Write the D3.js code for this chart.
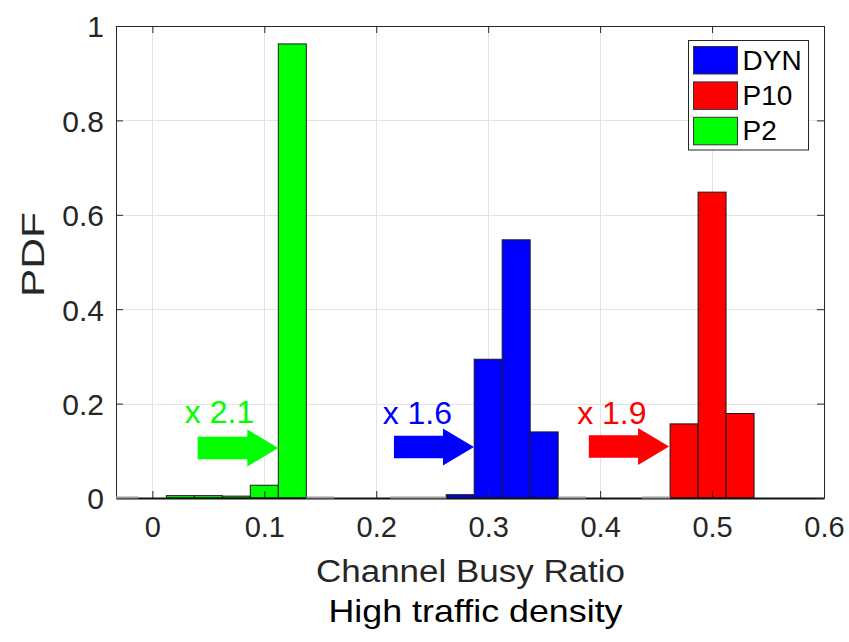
<!DOCTYPE html>
<html>
<head>
<meta charset="utf-8">
<script src="https://cdn.jsdelivr.net/npm/d3@7"></script>
<style>
  body { margin: 0; background: #fff; }
  svg { display: block; font-family: "Liberation Sans", Arial, sans-serif; }
</style>
</head>
<body>
<div class="chart"></div>
<script>
// Chart size
const width = 849;
const height = 642;
const margin = { top: 26, right: 25, bottom: 144, left: 116 };

// Bin centres (bin width 0.025)
const binWidth = 0.025;
const binCenters = [-0.025, 0, 0.025, 0.05, 0.075, 0.1, 0.125, 0.15, 0.175, 0.2, 0.225, 0.25,
  0.275, 0.3, 0.325, 0.35, 0.375, 0.4, 0.425, 0.45, 0.475, 0.5, 0.525, 0.55, 0.575];

// PDF values per bin (null = no bar, 0 = empty bin)
const dynValues = [null, null, null, null, null, null, null, null, null, null, 0, 0,
  0.007, 0.294, 0.547, 0.140, 0, null, null, null, null, null, null, null, null];
const p10Values = [null, null, null, null, null, null, null, null, null, null, null, null,
  null, null, null, null, null, null, null, 0, 0.157, 0.648, 0.179, null, null];
const p2Values = [0, null, 0.005, 0.005, 0.004, 0.027, 0.962, 0, null, null, null, null,
  null, null, null, null, null, null, null, null, null, null, null, null, null];

const seriesNames = ['DYN', 'P10', 'P2'];
const seriesColors = ['#0000ff', '#ff0000', '#00ff00'];
const seriesValues = [dynValues, p10Values, p2Values];

// Annotations: gain labels and arrows (data units)
const gainLabels = ['x 2.1', 'x 1.6', 'x 1.9'];
const gainColors = ['#00ff00', '#0000ff', '#ff0000'];
const arrowStartX = [0.0405, 0.2158, 0.3899];
const arrowTipX = [0.1125, 0.2873, 0.4616];
const arrowY = [0.106, 0.108, 0.109];
const labelX = [0.029, 0.2057, 0.3795];
const labelY = [0.158, 0.157, 0.157];

// Axes
const xDomain = [-0.0325, 0.6];
const yDomain = [0, 1];
const xTicks = [0, 0.1, 0.2, 0.3, 0.4, 0.5, 0.6];
const yTicks = [0, 0.2, 0.4, 0.6, 0.8, 1];

const textColor = '#262626';

const svg = d3.select('.chart')
  .append('svg')
  .attr('width', width)
  .attr('height', height);

const x = d3.scaleLinear()
  .domain(xDomain)
  .range([margin.left, width - margin.right]);

const y = d3.scaleLinear()
  .domain(yDomain)
  .range([height - margin.bottom, margin.top]);

svg.append('defs').append('clipPath')
  .attr('id', 'plot-clip')
  .append('rect')
  .attr('x', x.range()[0])
  .attr('y', y.range()[1] - 2)
  .attr('width', x.range()[1] - x.range()[0])
  .attr('height', y.range()[0] - y.range()[1] + 4);

// Grid
const grid = svg.append('g').attr('stroke', '#e3e3e3').attr('stroke-width', 1);
grid.selectAll('.gx')
  .data(xTicks)
  .join('line')
    .attr('x1', d => Math.round(x(d)) + 0.5)
    .attr('x2', d => Math.round(x(d)) + 0.5)
    .attr('y1', y.range()[1])
    .attr('y2', y.range()[0]);
grid.selectAll('.gy')
  .data(yTicks)
  .join('line')
    .attr('x1', x.range()[0])
    .attr('x2', x.range()[1])
    .attr('y1', d => Math.round(y(d)) + 0.5)
    .attr('y2', d => Math.round(y(d)) + 0.5);

// Bars
const bars = svg.append('g').attr('clip-path', 'url(#plot-clip)');
seriesValues.forEach((values, i) => {
  const data = binCenters.map((c, j) => ({ c, v: values[j] })).filter(d => d.v !== null);
  bars.append('g')
    .selectAll('rect')
    .data(data.filter(d => d.v > 0))
    .join('rect')
      .attr('x', d => x(d.c - binWidth / 2))
      .attr('width', d => x(d.c + binWidth / 2) - x(d.c - binWidth / 2))
      .attr('y', d => y(d.v))
      .attr('height', d => y(0) - y(d.v))
      .attr('fill', seriesColors[i])
      .attr('stroke', '#1a1a1a')
      .attr('stroke-width', 1);
});

// Axes
const axisStyle = g => {
  g.attr('color', textColor)
    .attr('font-family', null)
    .attr('font-size', 29);
};

svg.append('g')
  .attr('transform', `translate(0, ${y.range()[0]})`)
  .call(d3.axisBottom(x).tickValues(xTicks).tickSizeInner(-7).tickSizeOuter(0).tickPadding(18)
    .tickFormat(d3.format('~g')))
  .call(axisStyle)
  .call(g => g.select('.domain').attr('stroke-width', 2).attr('stroke', '#111'));

svg.append('g')
  .attr('transform', `translate(0, ${y.range()[1]})`)
  .call(d3.axisTop(x).tickValues(xTicks).tickSizeInner(-7).tickSizeOuter(0).tickFormat(''))
  .call(axisStyle);

svg.append('g')
  .attr('transform', `translate(${x.range()[0]}, 0)`)
  .call(d3.axisLeft(y).tickValues(yTicks).tickSizeInner(-7).tickSizeOuter(0).tickPadding(12)
    .tickFormat(d3.format('~g')))
  .call(axisStyle)
  .call(g => g.selectAll('text').attr('dy', '0.36em').attr('font-size', 30));

svg.append('g')
  .attr('transform', `translate(${x.range()[1]}, 0)`)
  .call(d3.axisRight(y).tickValues(yTicks).tickSizeInner(-7).tickSizeOuter(0).tickFormat(''))
  .call(axisStyle);

// Empty bins, drawn as light lines on the baseline
const empties = svg.append('g').attr('clip-path', 'url(#plot-clip)');
seriesValues.forEach(values => {
  const data = binCenters.map((c, j) => ({ c, v: values[j] })).filter(d => d.v === 0);
  empties.append('g')
    .selectAll('line')
    .data(data)
    .join('line')
      .attr('x1', d => x(d.c - binWidth / 2))
      .attr('x2', d => x(d.c + binWidth / 2))
      .attr('y1', y(0) - 0.5)
      .attr('y2', y(0) - 0.5)
      .attr('stroke', '#9a9a9a')
      .attr('stroke-width', 2);
});

// Arrows and gain labels
const bodyHalf = 11.3;
const headHalf = 18.5;
const headLen = 31;
const notes = svg.append('g');
gainLabels.forEach((label, i) => {
  const x0 = x(arrowStartX[i]);
  const x1 = x(arrowTipX[i]);
  const yc = y(arrowY[i]);
  const pts = [
    [x0, yc - bodyHalf], [x1 - headLen, yc - bodyHalf], [x1 - headLen, yc - headHalf],
    [x1, yc], [x1 - headLen, yc + headHalf], [x1 - headLen, yc + bodyHalf], [x0, yc + bodyHalf]
  ];
  notes.append('polygon')
    .attr('points', pts.map(p => p.join(',')).join(' '))
    .attr('fill', gainColors[i]);
  notes.append('text')
    .attr('x', x(labelX[i]))
    .attr('y', y(labelY[i]))
    .attr('font-size', 32)
    .attr('fill', gainColors[i])
    .text(label);
});

// Legend
const legend = svg.append('g').attr('transform', 'translate(688.5, 40.5)');
legend.append('rect')
  .attr('width', 120)
  .attr('height', 109.5)
  .attr('fill', '#fff')
  .attr('stroke', textColor)
  .attr('stroke-width', 1);
const rows = legend.selectAll('g.row')
  .data(seriesNames)
  .join('g')
    .attr('class', 'row')
    .attr('transform', (d, i) => `translate(5, ${6 + i * 35.4})`);
rows.append('rect')
  .attr('width', 44)
  .attr('height', 27.5)
  .attr('fill', (d, i) => seriesColors[i])
  .attr('stroke', '#333')
  .attr('stroke-width', 1);
rows.append('text')
  .attr('x', 49)
  .attr('y', 23)
  .attr('font-size', 28)
  .attr('fill', '#000')
  .text(d => d);

// Axis titles
svg.append('text')
  .attr('x', 470.5)
  .attr('y', 581.5)
  .attr('text-anchor', 'middle')
  .attr('font-size', 31)
  .attr('textLength', 309)
  .attr('lengthAdjust', 'spacingAndGlyphs')
  .attr('fill', textColor)
  .text('Channel Busy Ratio');

svg.append('text')
  .attr('x', 475.5)
  .attr('y', 621.5)
  .attr('text-anchor', 'middle')
  .attr('font-size', 32)
  .attr('textLength', 294)
  .attr('lengthAdjust', 'spacingAndGlyphs')
  .attr('fill', '#000')
  .text('High traffic density');

svg.append('text')
  .attr('transform', 'translate(44, 254.5) rotate(-90)')
  .attr('text-anchor', 'middle')
  .attr('font-size', 31)
  .attr('textLength', 85)
  .attr('lengthAdjust', 'spacingAndGlyphs')
  .attr('fill', textColor)
  .text('PDF');
</script>
</body>
</html>
